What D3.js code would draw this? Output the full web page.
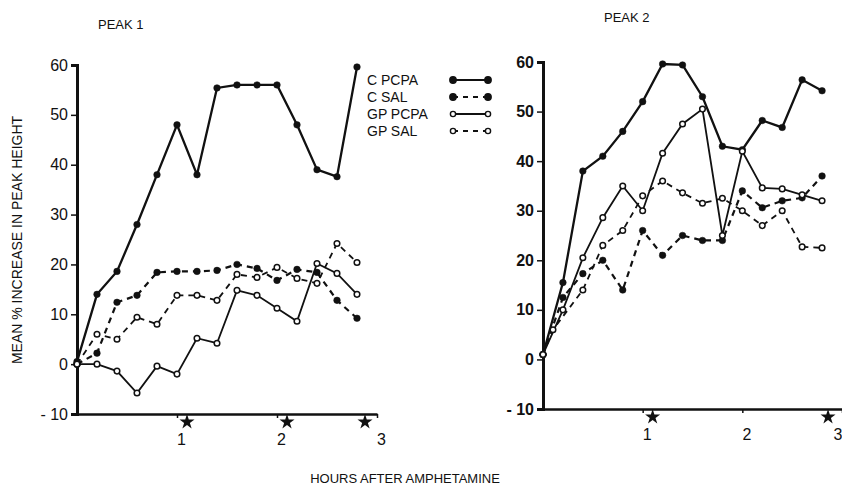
<!DOCTYPE html>
<html>
<head>
<meta charset="utf-8">
<script src="https://cdn.jsdelivr.net/npm/d3@7"></script>
<style>
	body { margin: 0; background: #fff; }
	text { font-family: "Liberation Sans", Arial, sans-serif; fill: #111; }
</style>
</head>
<body>
<svg id="chart" width="842" height="486"></svg>
<script>
// hours after amphetamine
var hours = [0, 0.2, 0.4, 0.6, 0.8, 1.0, 1.2, 1.4, 1.6, 1.8, 2.0, 2.2, 2.4, 2.6, 2.8];
var hoursGpSal2 = [0, 0.1, 0.4, 0.6, 0.8, 1.0, 1.2, 1.4, 1.6, 1.8, 2.0, 2.2, 2.4, 2.6, 2.8];

// peak 1
var cPcpa1 = [0.5, 14, 18.6, 28, 38, 48, 38, 55.4, 56, 56, 56, 48, 39, 37.6, 59.6];
var cSal1 = [0, 2.2, 12.4, 13.8, 18.4, 18.6, 18.6, 18.8, 20, 19.2, 16.8, 19, 18.4, 12.8, 9.2];
var gpPcpa1 = [0, 0, -1.4, -5.8, -0.4, -2, 5.2, 4.2, 14.8, 13.8, 11.2, 8.6, 20.2, 18.2, 14];
var gpSal1 = [0, 6, 5, 9.4, 8, 13.8, 13.8, 12.8, 18, 17.4, 19.4, 17.2, 16.2, 24.2, 20.4];

// peak 2
var cPcpa2 = [1, 15.5, 38, 41, 46, 52, 59.6, 59.4, 53, 43, 42.3, 48.2, 46.8, 56.4, 54.2];
var cSal2 = [1, 12.5, 17.3, 20, 14, 26, 21, 25, 24, 24, 34, 30.6, 32, 32.6, 37];
var gpPcpa2 = [1, 10, 20.5, 28.6, 35, 30, 41.6, 47.5, 50.5, 25, 42, 34.6, 34.4, 33.2, 32];
var gpSal2 = [1, 6, 14, 23, 26, 33, 36, 33.6, 31.5, 32.5, 30, 27, 30, 22.7, 22.5];

var yTicks = [-10, 0, 10, 20, 30, 40, 50, 60];
var xTicks = [1, 2, 3];
var starHours1 = [1.1, 2.1, 2.88];
var starHours2 = [1.1, 2.86];

var legendNames = ["C PCPA", "C SAL", "GP PCPA", "GP SAL"];

var svg = d3.select("#chart");

function panel(opt){
	var x = d3.scaleLinear().domain([0, 3]).range([opt.x0, opt.x1]);
	var y = d3.scaleLinear().domain([-10, 60]).range([opt.y0, opt.y1]);
	var g = svg.append("g");

	var yAxis = g.append("g")
		.attr("transform", "translate(" + opt.x0 + ",0)")
		.call(d3.axisLeft(y).tickValues(yTicks).tickSize(6).tickPadding(3)
			.tickFormat(function(d){ return d < 0 ? "- " + Math.abs(d) : d; }));
	yAxis.select(".domain").attr("stroke", "#111").attr("stroke-width", 3);
	yAxis.selectAll(".tick line").attr("stroke", "#111").attr("stroke-width", 1.5);
	yAxis.selectAll("text").style("font-size", "16px").style("font-weight", opt.bold ? "bold" : "normal")
		.attr("fill", "#111");

	var xAxis = g.append("g")
		.attr("transform", "translate(0," + opt.y0 + ")")
		.call(d3.axisBottom(x).tickValues(xTicks).tickSize(4).tickPadding(16).tickSizeOuter(0)
			.tickFormat(d3.format("d")));
	xAxis.select(".domain").attr("stroke", "#111").attr("stroke-width", 2.5);
	xAxis.selectAll(".tick line").attr("stroke", "#111").attr("stroke-width", 1.5);
	xAxis.selectAll("text").style("font-size", "16px").attr("fill", "#111").attr("dx", 4);
	// keep a last label inside the page edge
	if(opt.clampLast){
		xAxis.selectAll(".tick text").filter(function(d){ return d === 3; })
			.attr("text-anchor", "end").attr("dx", 0);
	}

	// stars under the axis
	g.selectAll("path.star")
		.data(opt.stars)
		.enter().append("path")
		.attr("class", "star")
		.attr("d", d3.symbol().type(d3.symbolStar).size(70))
		.attr("transform", function(d){ return "translate(" + x(d) + "," + (opt.y0 + 8) + ")"; })
		.attr("fill", "#111");

	var line = d3.line()
		.x(function(d){ return x(d[0]); })
		.y(function(d){ return y(d[1]); });

	opt.series.forEach(function(s){
		var pts = s.hours.map(function(h, i){ return [h, s.values[i]]; });
		g.append("path")
			.datum(pts)
			.attr("d", line)
			.attr("fill", "none")
			.attr("stroke", "#111")
			.attr("stroke-width", s.width)
			.attr("stroke-dasharray", s.dashed ? "6,5" : null);
		g.selectAll(null)
			.data(pts)
			.enter().append("circle")
			.attr("cx", function(d){ return x(d[0]); })
			.attr("cy", function(d){ return y(d[1]); })
			.attr("r", s.filled ? 3.3 : 2.8)
			.attr("fill", s.filled ? "#111" : "#fff")
			.attr("stroke", "#111")
			.attr("stroke-width", s.filled ? 0.5 : 1.5);
	});
}

panel({
	x0: 77, x1: 377, y0: 414, y1: 65, bold: false, stars: starHours1,
	series: [
		{ hours: hours, values: cPcpa1, dashed: false, filled: true, width: 2.3 },
		{ hours: hours, values: cSal1, dashed: true, filled: true, width: 2.2 },
		{ hours: hours, values: gpPcpa1, dashed: false, filled: false, width: 1.8 },
		{ hours: hours, values: gpSal1, dashed: true, filled: false, width: 1.8 }
	]
});

panel({
	x0: 543, x1: 842, y0: 409, y1: 62, bold: true, stars: starHours2, clampLast: true,
	series: [
		{ hours: hours, values: cPcpa2, dashed: false, filled: true, width: 2.3 },
		{ hours: hours, values: cSal2, dashed: true, filled: true, width: 2.2 },
		{ hours: hours, values: gpPcpa2, dashed: false, filled: false, width: 1.8 },
		{ hours: hoursGpSal2, values: gpSal2, dashed: true, filled: false, width: 1.8 }
	]
});

// titles
svg.append("text").attr("x", 98).attr("y", 29).style("font-size", "13px").text("PEAK 1");
svg.append("text").attr("x", 604).attr("y", 22).style("font-size", "13px").text("PEAK 2");
svg.append("text")
	.attr("transform", "translate(22,240) rotate(-90)")
	.attr("text-anchor", "middle")
	.style("font-size", "14px")
	.text("MEAN % INCREASE IN PEAK HEIGHT");
svg.append("text")
	.attr("x", 405).attr("y", 483)
	.attr("text-anchor", "middle")
	.style("font-size", "13px")
	.text("HOURS AFTER AMPHETAMINE");

// legend
var legend = svg.append("g");
var legRows = legend.selectAll("g")
	.data(legendNames)
	.enter().append("g")
	.attr("transform", function(d, i){ return "translate(367," + (80 + i * 17) + ")"; });
legRows.append("text")
	.attr("dy", "0.35em")
	.style("font-size", "14px")
	.text(function(d){ return d; });
legRows.append("line")
	.attr("x1", 453).attr("x2", 488)
	.attr("transform", "translate(-367,0)")
	.attr("stroke", "#111")
	.attr("stroke-width", 1.8)
	.attr("stroke-dasharray", function(d, i){ return i % 2 ? "5,5" : null; });
legRows.selectAll("circle")
	.data(function(d, i){ return [i, i]; })
	.enter().append("circle")
	.attr("cx", function(d, j){ return j ? 121 : 86; })
	.attr("cy", 0)
	.attr("r", function(d){ return d < 2 ? 3.2 : 2.6; })
	.attr("fill", function(d){ return d < 2 ? "#111" : "#fff"; })
	.attr("stroke", "#111")
	.attr("stroke-width", 1.4);
</script>
</body>
</html>
